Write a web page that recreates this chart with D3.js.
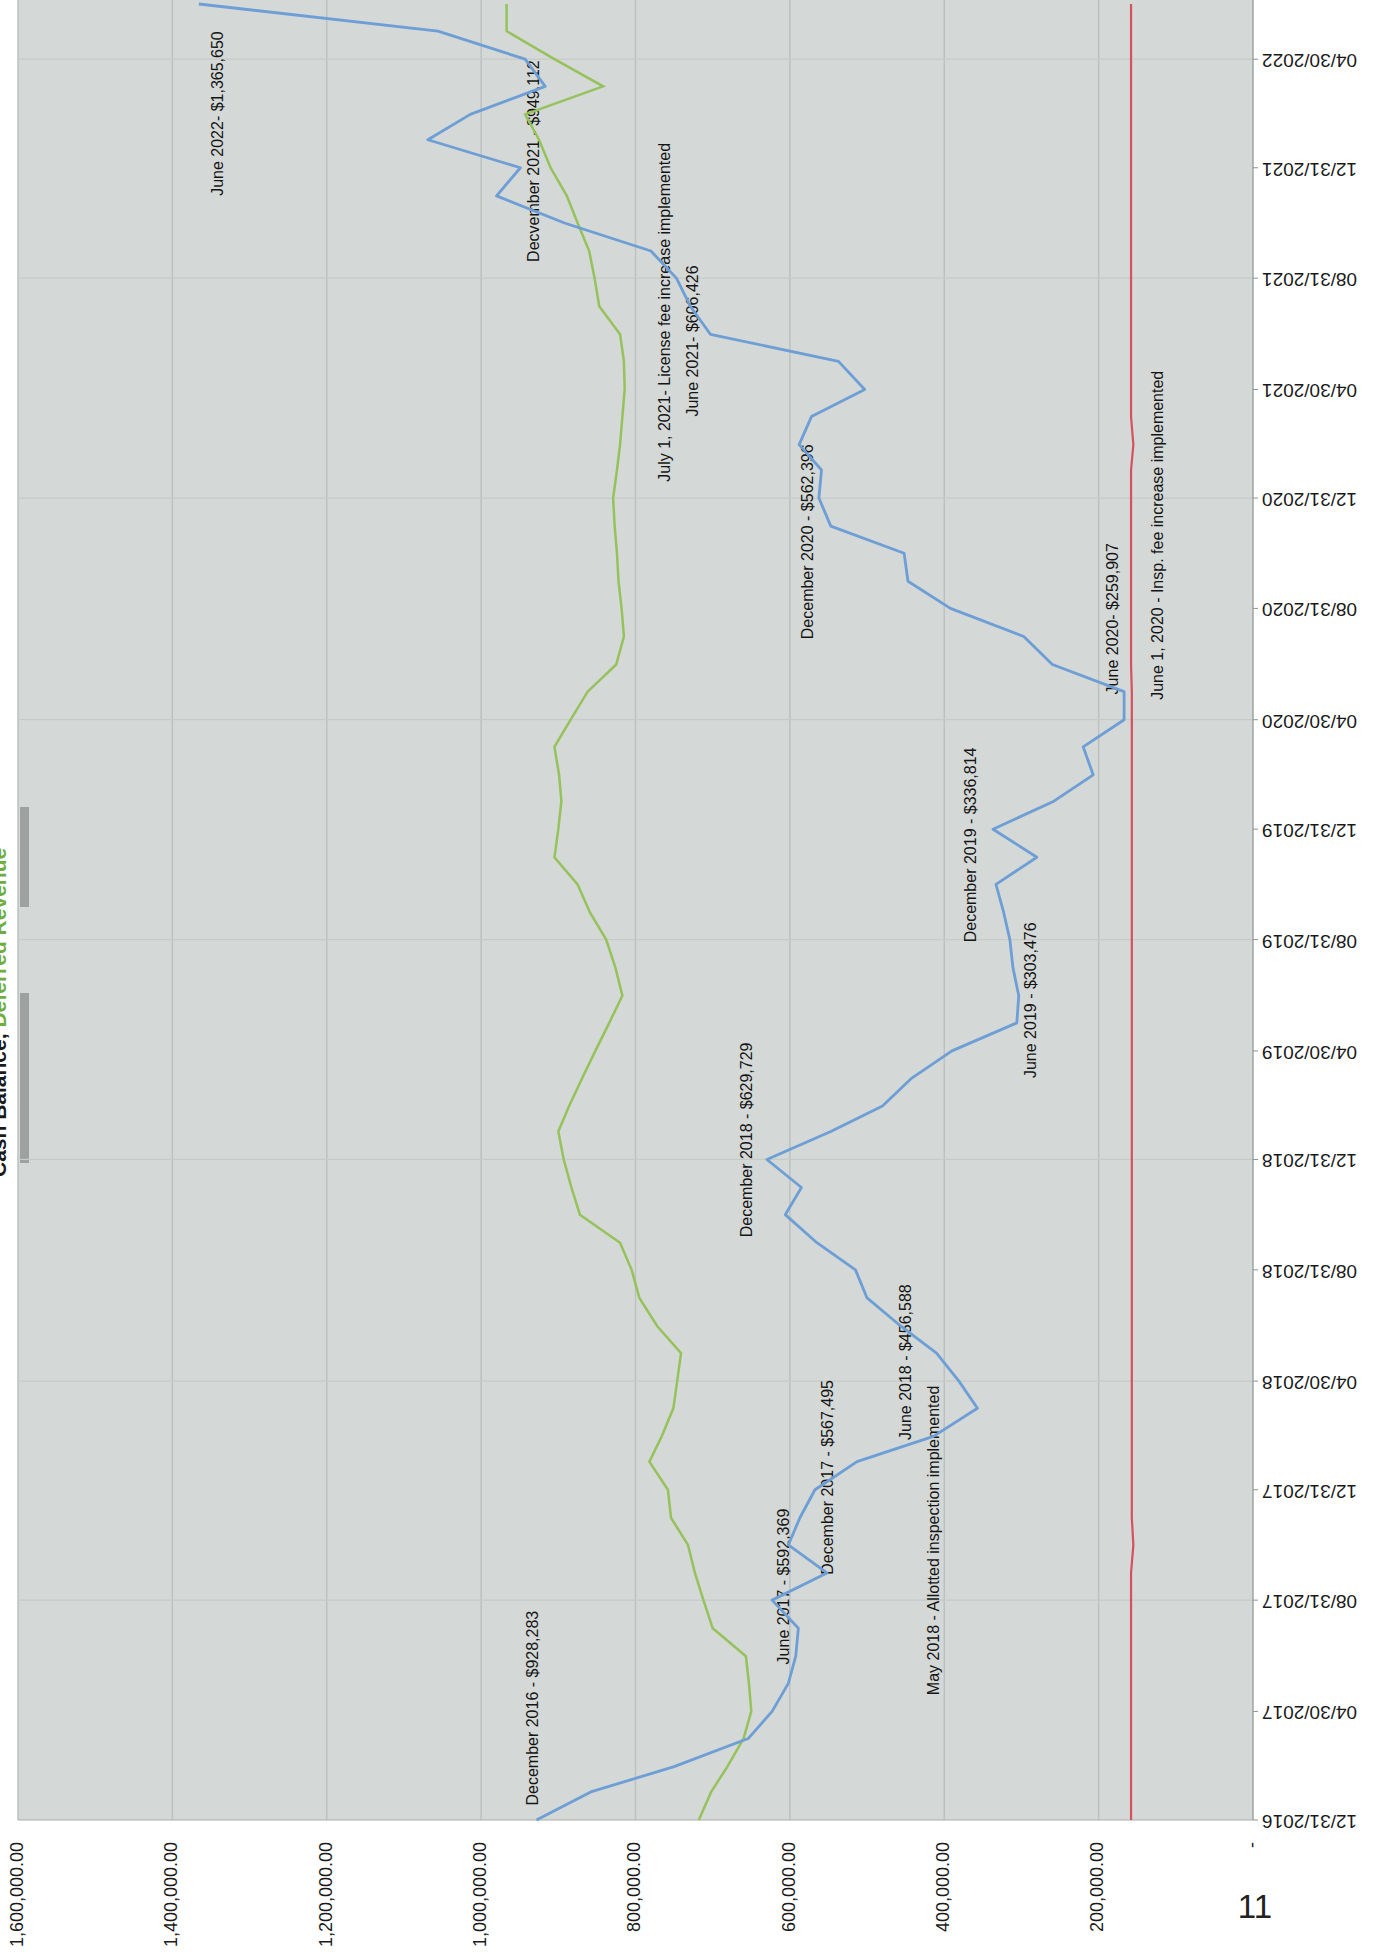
<!DOCTYPE html>
<html>
<head>
<meta charset="utf-8">
<script src="https://cdn.jsdelivr.net/npm/d3@7"></script>
<style>
  body { margin: 0; background: #fff; }
  svg { display: block; font-family: "Liberation Sans", Arial, sans-serif; }
</style>
</head>
<body>
<div id="chart"></div>
<script>
// meses (fin de mes) dic 2016 - jun 2022
var months = ["2016-12",
  "2017-01","2017-02","2017-03","2017-04","2017-05","2017-06","2017-07","2017-08","2017-09","2017-10","2017-11","2017-12",
  "2018-01","2018-02","2018-03","2018-04","2018-05","2018-06","2018-07","2018-08","2018-09","2018-10","2018-11","2018-12",
  "2019-01","2019-02","2019-03","2019-04","2019-05","2019-06","2019-07","2019-08","2019-09","2019-10","2019-11","2019-12",
  "2020-01","2020-02","2020-03","2020-04","2020-05","2020-06","2020-07","2020-08","2020-09","2020-10","2020-11","2020-12",
  "2021-01","2021-02","2021-03","2021-04","2021-05","2021-06","2021-07","2021-08","2021-09","2021-10","2021-11","2021-12",
  "2022-01","2022-02","2022-03","2022-04","2022-05","2022-06"];

// Cash balance (azul)
var cashBalance = [928283,
  858000,750000,654000,623000,602000,592369,589000,623000,552000,602000,587000,567495,
  513000,414000,357000,381000,410000,456588,500000,515000,565000,606000,585000,629729,
  547000,480000,442000,390000,306000,303476,311000,315000,323000,333000,280000,336814,
  258000,207000,220000,167000,167000,259907,297000,392000,447000,452000,547000,562396,
  559000,588000,572000,503000,537000,703000,729000,747000,780000,892000,980000,949112,
  1069000,1014000,917000,943000,1056000,1365650];

// Deferred revenue (verde)
var deferredRevenue = [718000,
  702000,681000,660000,650000,653000,657000,700000,712000,723000,732000,754000,758000,
  782000,766000,751000,746000,741000,772000,795000,805000,820000,872000,883000,893000,
  900000,886000,869000,852000,834000,817000,826000,838000,859000,875000,905000,900000,
  896000,899000,905000,884000,862000,825000,815000,818000,822000,824000,827000,829000,
  824000,820000,817000,814000,815000,820000,847000,853000,860000,875000,889000,910000,
  925000,943000,842000,905000,967000,967000];

// linea roja (casi constante)
var reserveLine = [158000,
  158000,158000,158000,158000,158000,158000,158000,158000,158000,155000,157000,157000,
  157000,157000,157000,157000,157000,157000,157000,157000,157000,157000,157000,157000,
  157000,157000,157000,157000,157000,157000,157000,157000,157000,157000,157000,157000,
  157000,157000,157000,157000,157000,158000,158000,158000,158000,158000,158000,158000,
  158000,155000,158000,158000,158000,158000,158000,158000,158000,158000,158000,158000,
  158000,158000,158000,158000,158000,158000];

var dateTicks = ["12/31/2016","04/30/2017","08/31/2017","12/31/2017","04/30/2018","08/31/2018",
  "12/31/2018","04/30/2019","08/31/2019","12/31/2019","04/30/2020","08/31/2020","12/31/2020",
  "04/30/2021","08/31/2021","12/31/2021","04/30/2022"];

var valueTicks = [0,200000,400000,600000,800000,1000000,1200000,1400000,1600000];
var valueTickLabels = ["-","200,000.00","400,000.00","600,000.00","800,000.00",
  "1,000,000.00","1,200,000.00","1,400,000.00","1,600,000.00"];

// notas del grafico
var noteTexts = ["June 2022- $1,365,650","Decvember 2021 - $949,112",
  "July 1, 2021- License fee increase implemented","June 2021- $606,426",
  "December 2020 - $562,396","June 2020- $259,907",
  "June 1, 2020 - Insp. fee increase implemented","December 2019 - $336,814",
  "June 2019 - $303,476","December 2018 - $629,729","June 2018 - $456,588",
  "December 2017 - $567,495","May 2018 - Allotted inspection implemented",
  "June 2017 - $592,369","December 2016 - $928,283"];
var noteDates = ["2021-11-30","2021-09-18","2021-01-18","2021-03-31","2020-07-28","2020-05-28",
  "2020-05-22","2019-08-28","2019-03-31","2018-10-06","2018-02-24","2017-09-28","2017-05-18",
  "2017-06-21","2017-01-16"];
var noteValues = [1340000,930000,761000,725000,575000,180000,122000,364000,286000,654000,
  449000,550000,412000,606000,932000];

//Parseo de fechas
var parseMonth = d3.timeParse("%Y-%m");
var parseTick = d3.timeParse("%m/%d/%Y");
var parseDay = d3.timeParse("%Y-%m-%d");
var monthEnd = function(s) { return d3.timeDay.offset(d3.timeMonth.offset(parseMonth(s), 1), -1); };

function serie(vals) {
  return months.map(function(m, i) { return {date: monthEnd(m), value: vals[i]}; });
}

//medidas (el grafico esta girado -90 en la pagina)
var W = 1816, H = 1235;

var svg = d3.select("#chart").append("svg")
  .attr("width", 1380)
  .attr("height", 1959);

var g = svg.append("g")
  .attr("transform", "translate(18,1820) rotate(-90)");

var x = d3.scaleTime()
  .domain([new Date(2016, 11, 31), new Date(2022, 5, 30)])
  .range([0, W]);

var y = d3.scaleLinear()
  .domain([0, 1600000])
  .range([H, 0]);

//fondo del area de trazado
g.append("rect")
  .attr("x", 0).attr("y", 0)
  .attr("width", W + 30).attr("height", H)
  .attr("fill", "#d4d8d6");

//manchas del escaneo junto al titulo
g.append("rect").attr("x", 657).attr("y", 2).attr("width", 170).attr("height", 9)
  .attr("fill", "#5d6060").attr("opacity", 0.45);
g.append("rect").attr("x", 913).attr("y", 2).attr("width", 100).attr("height", 9)
  .attr("fill", "#5d6060").attr("opacity", 0.45);

//grid de valores
g.append("g").selectAll("line")
  .data(valueTicks.slice(1))
  .join("line")
  .attr("x1", 0).attr("x2", W + 30)
  .attr("y1", d => y(d)).attr("y2", d => y(d))
  .attr("stroke", "#bdc1c0")
  .attr("stroke-width", 1.5);

//grid de fechas (cada 8 meses)
g.append("g").selectAll("line")
  .data(dateTicks.filter((d, i) => i % 2 == 0 && i > 0))
  .join("line")
  .attr("x1", d => x(parseTick(d))).attr("x2", d => x(parseTick(d)))
  .attr("y1", 0).attr("y2", H)
  .attr("stroke", "#c6cac9")
  .attr("stroke-width", 1.2);

//ejes
g.append("line")
  .attr("x1", 0).attr("x2", W + 30)
  .attr("y1", H).attr("y2", H)
  .attr("stroke", "#8f9393").attr("stroke-width", 1.2);
g.append("line")
  .attr("x1", 0).attr("x2", 0)
  .attr("y1", 0).attr("y2", H)
  .attr("stroke", "#a9adad").attr("stroke-width", 1.2);

//marcas y etiquetas de fechas
g.append("g").selectAll("line")
  .data(dateTicks)
  .join("line")
  .attr("x1", d => x(parseTick(d))).attr("x2", d => x(parseTick(d)))
  .attr("y1", H).attr("y2", H + 5)
  .attr("stroke", "#8f9393");

g.append("g").selectAll("text")
  .data(dateTicks)
  .join("text")
  .attr("transform", d => "translate(" + x(parseTick(d)) + "," + (H + 9) + ") rotate(-90)")
  .attr("text-anchor", "end")
  .attr("dominant-baseline", "middle")
  .attr("font-size", 19)
  .attr("fill", "#1a1a1a")
  .text(d => d);

//etiquetas de valores
g.append("g").selectAll("text")
  .data(valueTicks)
  .join("text")
  .attr("x", -22)
  .attr("y", d => y(d))
  .attr("text-anchor", "end")
  .attr("dominant-baseline", "middle")
  .attr("font-size", 18)
  .attr("fill", "#1a1a1a")
  .text((d, i) => valueTickLabels[i]);

//titulo (cortado en el borde, como en el original)
var title = g.append("text")
  .attr("x", 643).attr("y", -12)
  .attr("font-size", 21)
  .attr("font-weight", "bold");
title.append("tspan").attr("fill", "#1a1a1a").text("Cash Balance, ");
title.append("tspan").attr("fill", "#6fae3c").text("Deferred Revenue");

//notas
g.append("g").selectAll("text")
  .data(noteTexts)
  .join("text")
  .attr("x", (d, i) => x(parseDay(noteDates[i])))
  .attr("y", (d, i) => y(noteValues[i]))
  .attr("dominant-baseline", "middle")
  .attr("font-size", 16)
  .attr("fill", "#151515")
  .text(d => d);

//lineas
var linea = d3.line()
  .x(d => x(d.date))
  .y(d => y(d.value));

g.append("path")
  .datum(serie(deferredRevenue))
  .attr("fill", "none")
  .attr("stroke", "#95c25a")
  .attr("stroke-width", 2.5)
  .attr("d", linea);

g.append("path")
  .datum(serie(cashBalance))
  .attr("fill", "none")
  .attr("stroke", "#6d9ed6")
  .attr("stroke-width", 2.8)
  .attr("stroke-linejoin", "round")
  .attr("d", linea);

g.append("path")
  .datum(serie(reserveLine))
  .attr("fill", "none")
  .attr("stroke", "#d6505e")
  .attr("stroke-width", 2.2)
  .attr("d", linea);

//numero de pagina
svg.append("text")
  .attr("x", 1255).attr("y", 1918)
  .attr("text-anchor", "middle")
  .attr("font-size", 33)
  .attr("fill", "#222")
  .text("11");
</script>
</body>
</html>
